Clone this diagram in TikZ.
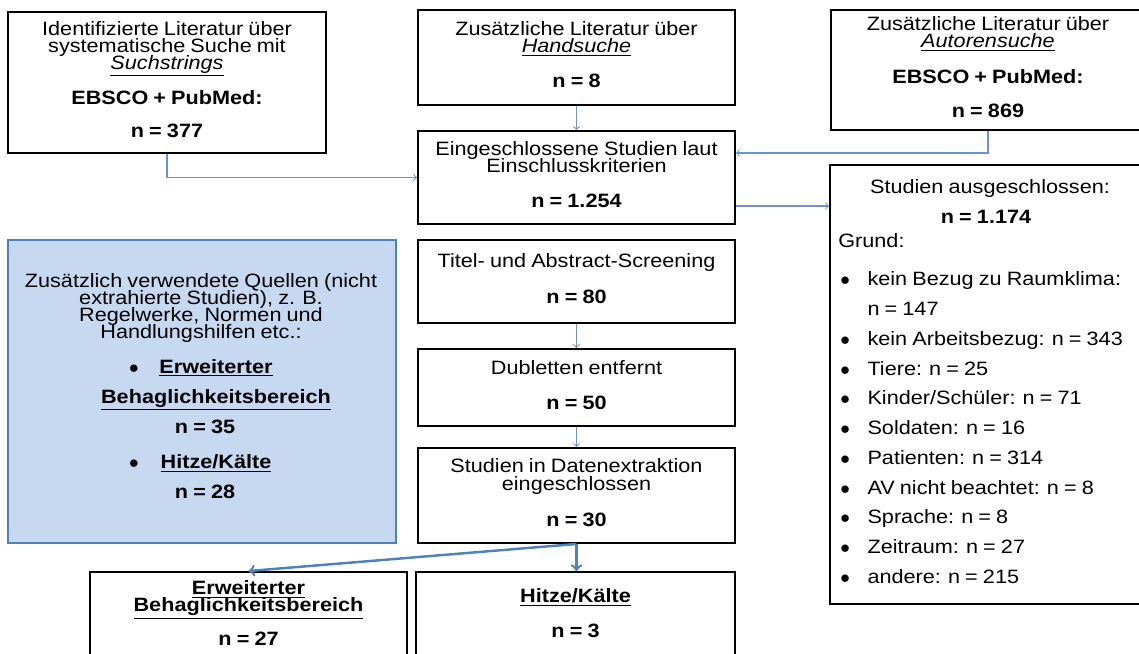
\documentclass[tikz,border=0pt]{standalone}
\usepackage{fontspec}
\setmainfont{Liberation Sans}[FakeStretch=1.12, WordSpace=0.85]
\usetikzlibrary{positioning}
\definecolor{arrowblue}{RGB}{108,148,204}
\definecolor{flowblue}{RGB}{79,129,189}
\definecolor{notefill}{RGB}{198,217,241}
\newcommand\tightlines{\fontsize{11}{9.7}\selectfont\lineskiplimit-20pt\relax}
\newcommand\lowpad{\rule[-3.4pt]{0pt}{3.4pt}}
\newcommand\dotitem{$\bullet$}

\begin{document}
\begin{tikzpicture}[x=0.02cm,y=-0.02cm,
  every node/.style={inner sep=0pt},
  flowbox/.style={draw=black, line width=1.1pt, align=center, font=\tightlines},
  notebox/.style={draw=flowblue, fill=notefill, line width=1pt},
  plain/.style={align=center, font=\tightlines},
  heavy/.style={align=center, font=\tightlines\bfseries},
  link/.style={->, arrowblue, line width=0.6pt},
  thicklink/.style={->, flowblue, line width=1.4pt}]

\useasboundingbox (0,0) rectangle (1139,653);

% search sources
\node[flowbox, minimum width=6.36cm, minimum height=2.82cm] (search) at (167,82.5)
  {Identifizierte Literatur über\\systematische Suche mit\\\underline{\textit{Suchstrings}}\\[10.2pt]\textbf{EBSCO + PubMed:}\\[9.4pt]\textbf{n = 377}\lowpad};
\node[flowbox, minimum width=6.34cm, minimum height=1.9cm] (hand) at (576.5,57.5)
  {Zusätzliche Literatur über\\\underline{\textit{Handsuche}}\\[10.2pt]\textbf{n = 8}\lowpad};
\node[flowbox, minimum width=6.28cm, minimum height=2.4cm] (author) at (988,70)
  {Zusätzliche Literatur über\\\underline{\textit{Autorensuche}}\\[10.8pt]\textbf{EBSCO + PubMed:}\\[9.7pt]\textbf{n = 869}\lowpad};

% main column
\node[flowbox, minimum width=6.34cm, minimum height=1.86cm] (incl) at (576.5,177.5)
  {Eingeschlossene Studien laut\\Einschlusskriterien\\[10.2pt]\textbf{n = 1.254}\lowpad};
\node[flowbox, minimum width=6.34cm, minimum height=1.66cm] (screen) at (576.5,281.5)
  {Titel- und Abstract-Screening\\[10.8pt]\textbf{n = 80}\lowpad};
\node[flowbox, minimum width=6.34cm, minimum height=1.54cm] (dupl) at (576.5,387.5)
  {Dubletten entfernt\\[10.2pt]\textbf{n = 50}\lowpad};
\node[flowbox, minimum width=6.34cm, minimum height=1.9cm] (extr) at (576.5,495.5)
  {Studien in Datenextraktion\\eingeschlossen\\[10.8pt]\textbf{n = 30}\lowpad};

% results
\node[flowbox, minimum width=6.34cm, minimum height=1.76cm] (comfort) at (248.5,616)
  {\textbf{\underline{Erweiterter}}\\\textbf{\underline{Behaglichkeitsbereich}}\\[9.7pt]\textbf{n = 27}\lowpad};
\node[flowbox, minimum width=6.38cm, minimum height=1.76cm] (heat) at (575.5,616)
  {\textbf{\underline{Hitze/Kälte}}\\[9.7pt]\textbf{n = 3}\lowpad};

% excluded
\node[flowbox, minimum width=6.4cm, minimum height=8.78cm] (excl) at (990,384.5) {};
\node[plain, anchor=base] (excltitle) at (990,193) {Studien ausgeschlossen:};
\node[heavy, anchor=base] (excln) at (986,223) {n = 1.174};
\node[plain, anchor=base west] (grund) at (838,247) {Grund:};
\node[anchor=base west, font=\fontsize{11}{16.95}\selectfont] (reasons) at (840,285.7)
  {\begin{tabular}[t]{@{}l@{\hspace{10pt}}l@{}}
  \dotitem & kein Bezug zu Raumklima:\\
   & n = 147\\
  \dotitem & kein Arbeitsbezug: n = 343\\
  \dotitem & Tiere: n = 25\\
  \dotitem & Kinder/Schüler: n = 71\\
  \dotitem & Soldaten: n = 16\\
  \dotitem & Patienten: n = 314\\
  \dotitem & AV nicht beachtet: n = 8\\
  \dotitem & Sprache: n = 8\\
  \dotitem & Zeitraum: n = 27\\
  \dotitem & andere: n = 215
  \end{tabular}};

% further sources
\node[notebox, minimum width=7.76cm, minimum height=6.06cm] (sources) at (202,391.5) {};
\node[plain, anchor=north] (sourcestext) at (201,273)
  {Zusätzlich verwendete Quellen (nicht\\extrahierte Studien), z. B.\\Regelwerke, Normen und\\Handlungshilfen etc.:};
\node[plain, anchor=base] (dot1) at (134,373) {\dotitem};
\node[heavy, anchor=base] (wide) at (216,373) {\underline{Erweiterter}};
\node[heavy, anchor=base] (widename) at (216,403) {\underline{Behaglichkeitsbereich}};
\node[heavy, anchor=base] (widen) at (205,433) {n = 35};
\node[plain, anchor=base] (dot2) at (134,468) {\dotitem};
\node[heavy, anchor=base] (heatsrc) at (216,468) {\underline{Hitze/Kälte}};
\node[heavy, anchor=base] (heatn) at (205,498) {n = 28};

% connectors
\coordinate (inclin) at ([yshift=0.49cm]incl.east);
\coordinate (inclout) at ([yshift=-0.57cm]incl.east);
\draw[link] (search.south) |- (incl.west);
\draw[link] (hand.south) -- (incl.north);
\draw[link] (author.south) |- (inclin);
\draw[link] (inclout) -- (inclout -| excl.west);
\draw[link] (screen.south) -- (dupl.north);
\draw[link] (dupl.south) -- (extr.north);
\draw[thicklink] (extr.south) -- (comfort.north);
\draw[thicklink] (extr.south) -- (extr.south |- heat.north);

\end{tikzpicture}
\end{document}
